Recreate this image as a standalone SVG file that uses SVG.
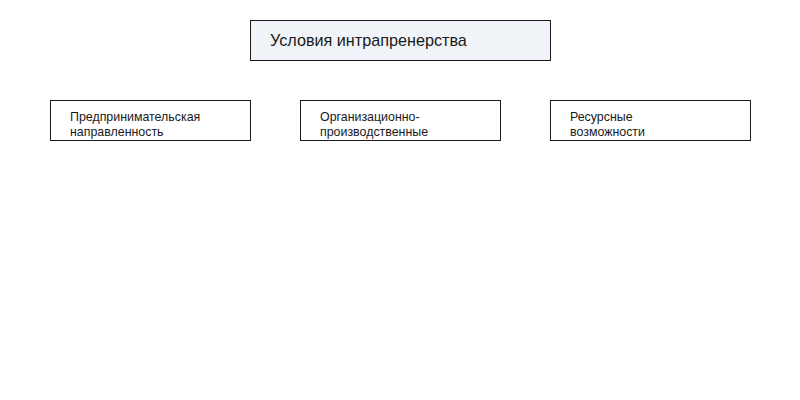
<svg xmlns="http://www.w3.org/2000/svg" width="800" height="400" viewBox="0 0 800 400">
<style>
.box{fill:#ffffff;stroke:#1a1a1a;stroke-width:1}
.root{fill:#f0f4f8;stroke:#1a1a1a;stroke-width:1}
.t{font-family:"Liberation Sans",Arial,sans-serif;font-size:12.4px;fill:#1a1a1a}
.tt{font-family:"Liberation Sans",Arial,sans-serif;font-size:16.2px;fill:#1a1a1a}
</style>
<rect width="800" height="400" fill="#ffffff"/>
<g id="connectors"></g>
<g id="root">
<rect class="root" x="250.5" y="20.5" width="300" height="40"/>
<text class="tt" x="270" y="46">Условия интрапренерства</text>
</g>
<g id="node1">
<rect class="box" x="50.5" y="100.5" width="200" height="40"/>
<text class="t" x="70" y="121">Предпринимательская</text>
<text class="t" x="70" y="136">направленность</text>
</g>
<g id="node2">
<rect class="box" x="300.5" y="100.5" width="200" height="40"/>
<text class="t" x="320" y="121">Организационно-</text>
<text class="t" x="320" y="136">производственные</text>
</g>
<g id="node3">
<rect class="box" x="550.5" y="100.5" width="200" height="40"/>
<text class="t" x="570" y="121">Ресурсные</text>
<text class="t" x="570" y="136">возможности</text>
</g>
</svg>
